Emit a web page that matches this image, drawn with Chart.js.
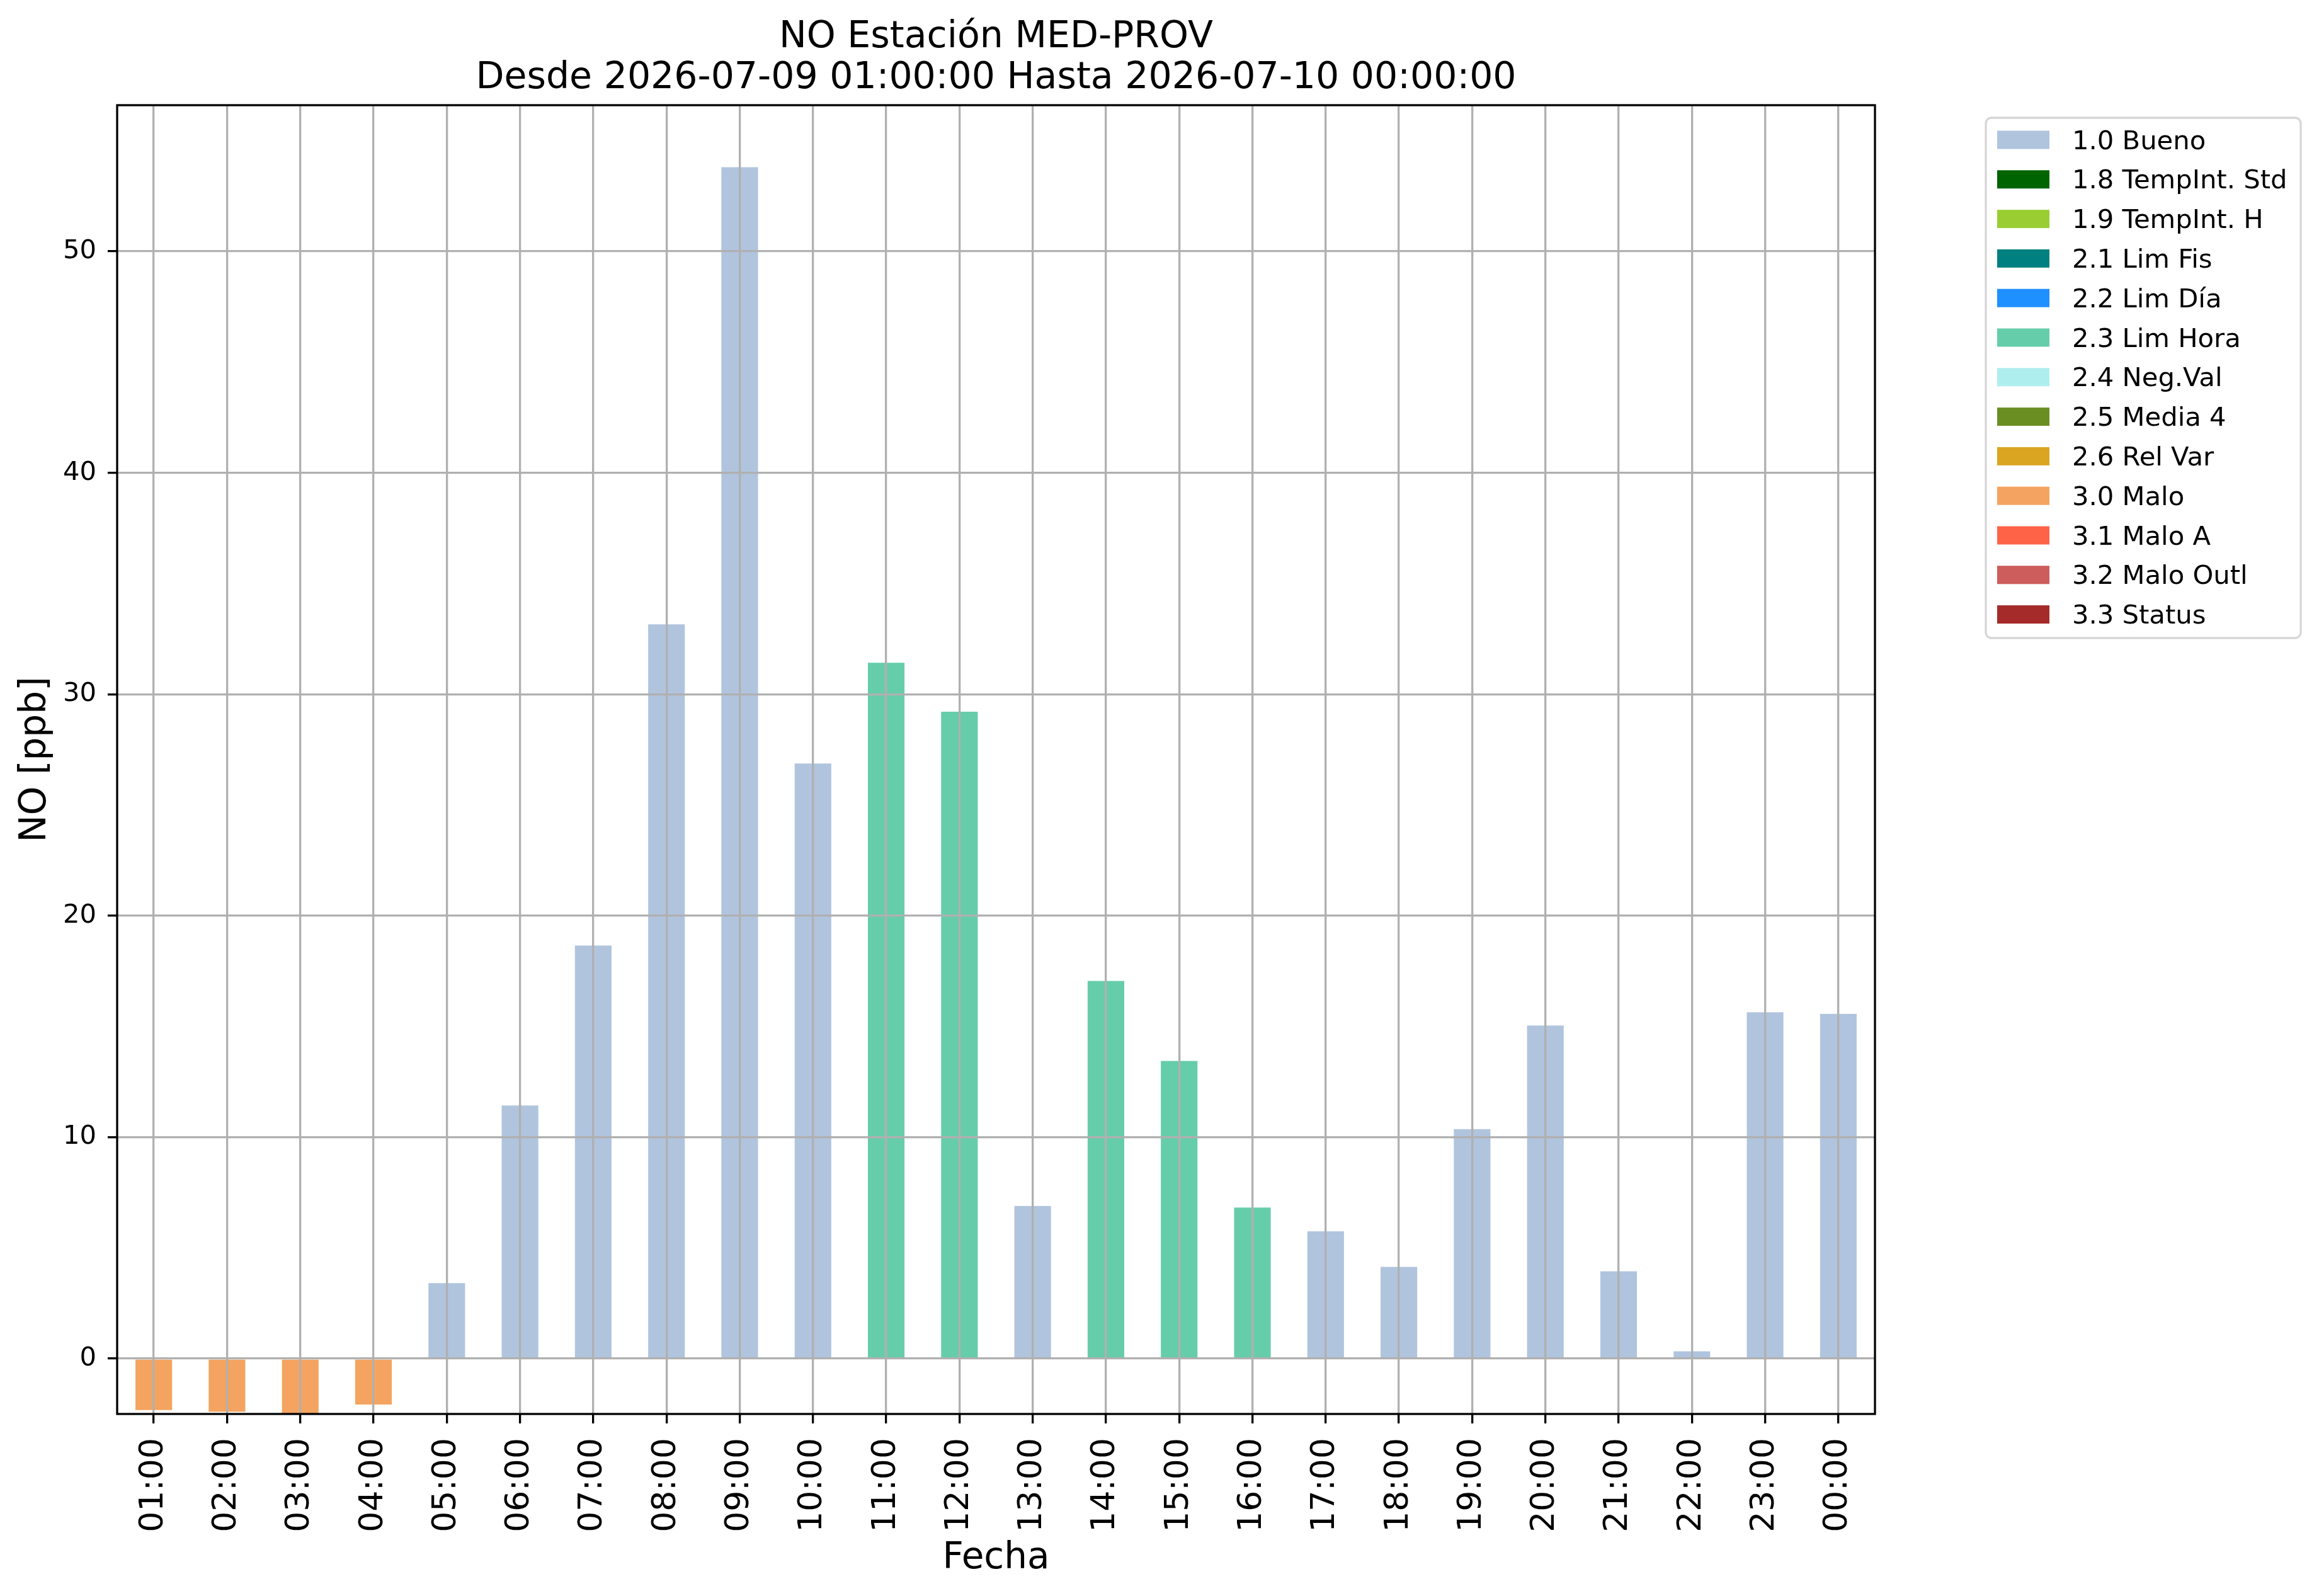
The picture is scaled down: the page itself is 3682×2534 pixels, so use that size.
<!DOCTYPE html>
<html lang="es">
<head>
<meta charset="utf-8">
<title>NO Estación MED-PROV</title>
<script src="https://cdn.jsdelivr.net/npm/chart.js@4.4.1/dist/chart.umd.min.js"></script>
<style>
  html, body { margin: 0; padding: 0; background: #fff; }
  canvas { display: block; background: #fff; }
</style>
</head>
<body>
<canvas id="no-chart" width="3682" height="2534"></canvas>
<script>
// hourly NO values
const hours = ["01:00", "02:00", "03:00", "04:00", "05:00", "06:00", "07:00", "08:00",
  "09:00", "10:00", "11:00", "12:00", "13:00", "14:00", "15:00", "16:00",
  "17:00", "18:00", "19:00", "20:00", "21:00", "22:00", "23:00", "00:00"];
const noValues = [-2.32, -2.40, -2.49, -2.07, 3.41, 11.43, 18.65, 33.16,
  53.8, 26.87, 31.42, 29.21, 6.89, 17.05, 13.44, 6.82,
  5.75, 4.14, 10.36, 15.04, 3.94, 0.33, 15.64, 15.57];
const hourFlags = ["3.0", "3.0", "3.0", "3.0", "1.0", "1.0", "1.0", "1.0",
  "1.0", "1.0", "2.3", "2.3", "1.0", "2.3", "2.3", "2.3",
  "1.0", "1.0", "1.0", "1.0", "1.0", "1.0", "1.0", "1.0"];

// validation flags (legend order)
const flagCodes = ["1.0", "1.8", "1.9", "2.1", "2.2", "2.3", "2.4", "2.5", "2.6", "3.0", "3.1", "3.2", "3.3"];
const flagNames = ["Bueno", "TempInt. Std", "TempInt. H", "Lim Fis", "Lim Día", "Lim Hora",
  "Neg.Val", "Media 4", "Rel Var", "Malo", "Malo A", "Malo Outl", "Status"];
const flagColors = ["#B0C4DE", "#006400", "#9ACD32", "#008080", "#1E90FF", "#66CDAA",
  "#AFEEEE", "#6B8E23", "#DAA520", "#F4A460", "#FF6347", "#CD5C5C", "#A52A2A"];

const yTicks = [0, 10, 20, 30, 40, 50];
const titleLines = ["NO Estación MED-PROV", "Desde 2026-07-09 01:00:00 Hasta 2026-07-10 00:00:00"];

const FONT = "DejaVu Sans";

const datasets = flagCodes.map((code, i) => ({
  label: code + " " + flagNames[i],
  data: noValues.map((v, h) => (hourFlags[h] === code ? v : null)),
  backgroundColor: flagColors[i],
  borderWidth: 0
}));

// frame, title and legend box drawn like matplotlib does
const decorPlugin = {
  id: "decor",
  afterDraw(chart) {
    const { ctx, chartArea: a } = chart;
    ctx.save();

    ctx.strokeStyle = "#000";
    ctx.lineWidth = 3.3;
    ctx.strokeRect(a.left, a.top, a.right - a.left, a.bottom - a.top);

    ctx.fillStyle = "#000";
    ctx.font = "58.5px '" + FONT + "'";
    ctx.textAlign = "center";
    ctx.textBaseline = "alphabetic";
    const cx = (a.left + a.right) / 2;
    ctx.fillText(titleLines[0], cx, 75);
    ctx.fillText(titleLines[1], cx, 140);

    const boxX = 3153, boxY = 187, boxW = 500, boxH = 826;
    ctx.beginPath();
    ctx.roundRect(boxX, boxY, boxW, boxH, 9);
    ctx.fillStyle = "rgba(255,255,255,0.8)";
    ctx.fill();
    ctx.strokeStyle = "#d6d6d6";
    ctx.lineWidth = 3.3;
    ctx.stroke();

    ctx.font = "41.7px '" + FONT + "'";
    ctx.textAlign = "left";
    chart.data.datasets.forEach((ds, i) => {
      const cy = 222 + i * 62.8;
      ctx.fillStyle = ds.backgroundColor;
      ctx.fillRect(3171, cy - 14.5, 83, 29);
      ctx.fillStyle = "#000";
      ctx.fillText(ds.label, 3290, cy + 14.5);
    });

    ctx.restore();
  }
};

const gridStyle = {
  color: "#b0b0b0",
  lineWidth: 3.3,
  tickColor: "#000",
  tickWidth: 3.3,
  tickLength: 15,
  z: 1
};

new Chart(document.getElementById("no-chart"), {
  type: "bar",
  data: { labels: hours, datasets },
  options: {
    responsive: false,
    animation: false,
    devicePixelRatio: 1,
    layout: { padding: { top: 167, right: 705, bottom: 0, left: 0 } },
    datasets: {
      bar: { grouped: false, categoryPercentage: 1, barPercentage: 0.5 }
    },
    plugins: {
      legend: { display: false },
      title: { display: false },
      tooltip: { enabled: false }
    },
    scales: {
      x: {
        offset: true,
        grid: Object.assign({ offset: false }, gridStyle),
        border: { display: false },
        ticks: {
          autoSkip: false,
          minRotation: 90,
          maxRotation: 90,
          padding: 23,
          color: "#000",
          font: { family: FONT, size: 52 }
        },
        title: {
          display: true,
          text: "Fecha",
          color: "#000",
          font: { family: FONT, size: 58 },
          padding: { top: 0, bottom: 24 }
        },
        afterFit(scale) {
          scale.height = 289;
          scale.paddingLeft = 0;
          scale.paddingRight = 0;
        }
      },
      y: {
        min: -2.5,
        max: 56.6,
        afterBuildTicks(scale) {
          scale.ticks = yTicks.map(v => ({ value: v }));
        },
        grid: gridStyle,
        border: { display: false },
        ticks: {
          padding: 18,
          color: "#000",
          font: { family: FONT, size: 41.7 }
        },
        title: {
          display: true,
          text: "NO [ppb]",
          color: "#000",
          font: { family: FONT, size: 58 },
          padding: { top: 22, bottom: 0 }
        },
        afterFit(scale) {
          scale.width = 186;
        }
      }
    }
  },
  plugins: [decorPlugin]
});
</script>
</body>
</html>
